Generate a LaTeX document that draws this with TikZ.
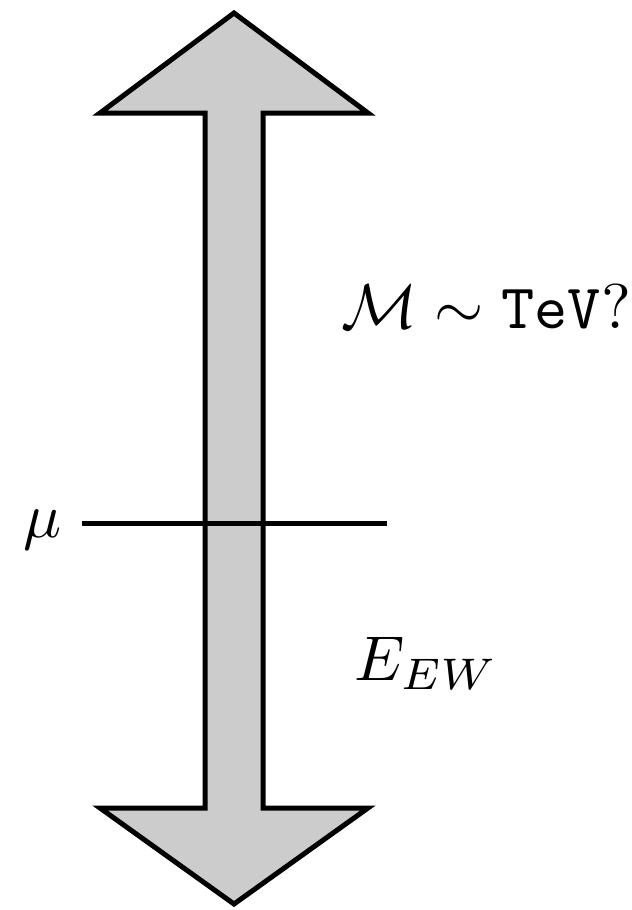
\documentclass[tikz,border=0pt]{standalone}
\usepackage{amsmath,amssymb}
\usetikzlibrary{arrows.meta}

\begin{document}
\begin{tikzpicture}[x=0.02cm,y=-0.02cm,
  lbl/.style={inner sep=0pt,scale=3.6}]
\useasboundingbox (0,0) rectangle (632,910);
% double arrow for the scale
\filldraw[fill=black!20,line width=0.1cm] (234,13) -- (368,113) -- (263,113) -- (263,808) -- (368,808) -- (234,904) -- (100,808) -- (205,808) -- (205,113) -- (100,113) -- cycle;
% cut-off scale
\coordinate (cutL) at (82,523);
\coordinate (cutR) at (387,523);
\draw[line width=0.1cm] (cutL) -- (cutR);
\node[lbl,anchor=base east] (mu) at (63,537) {$\mu$};
\node[lbl,anchor=base west] (newphys) at (340,328) {$\mathcal{M}\sim\texttt{TeV}$?};
\node[lbl,anchor=base west] (ew) at (353,680) {$E_{EW}$};
\end{tikzpicture}
\end{document}
